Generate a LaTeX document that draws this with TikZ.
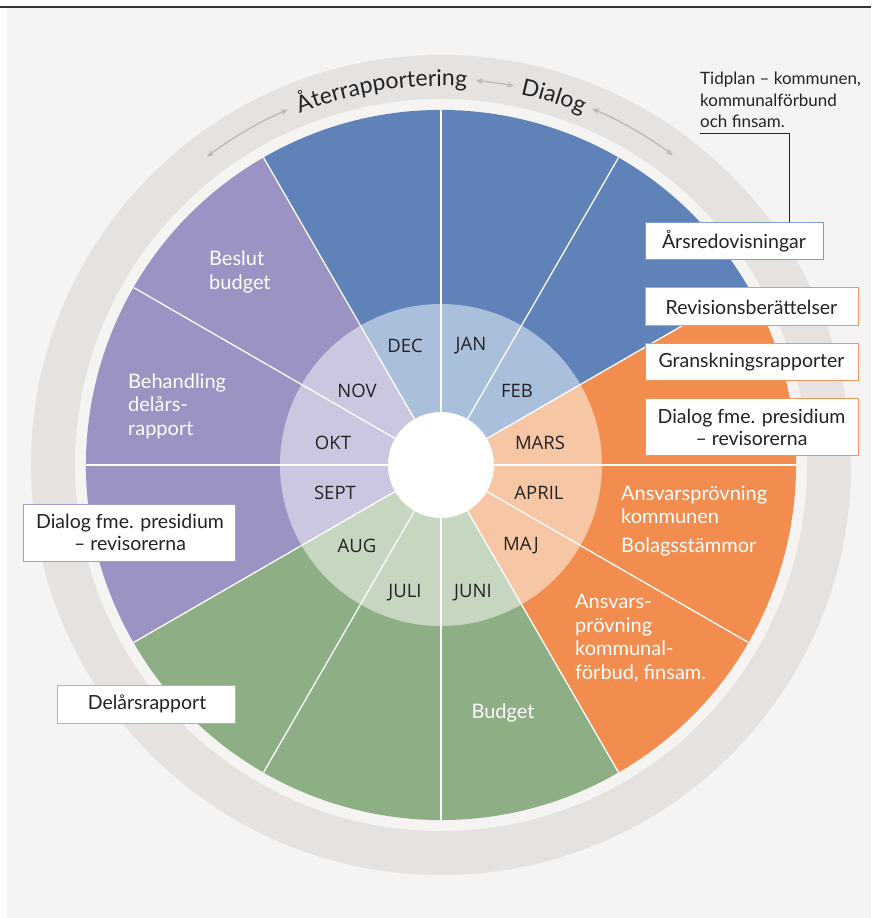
\documentclass[tikz,border=0pt]{standalone}
\usepackage{fontspec}
\setmainfont{Lato}
\newfontfamily\monthfont{Open Sans}
\usetikzlibrary{arrows.meta,decorations.text,calc}
\definecolor{bgc}{RGB}{245,244,242}
\definecolor{ringc}{RGB}{230,226,224}
\definecolor{blueD}{RGB}{95,131,185}
\definecolor{blueL}{RGB}{170,191,219}
\definecolor{orangeD}{RGB}{242,141,79}
\definecolor{orangeL}{RGB}{247,198,165}
\definecolor{greenD}{RGB}{142,174,133}
\definecolor{greenL}{RGB}{198,214,192}
\definecolor{purpleD}{RGB}{155,147,196}
\definecolor{purpleL}{RGB}{204,199,225}
\definecolor{blueB}{RGB}{123,156,204}
\definecolor{orangeB}{RGB}{240,150,90}
\definecolor{purpleB}{RGB}{165,158,208}
\definecolor{greenB}{RGB}{165,191,157}
\definecolor{arrowgray}{RGB}{190,184,181}
\definecolor{txt}{RGB}{35,35,35}
\newcommand{\ringtextfont}{\fontsize{23}{27}\selectfont\color{txt}}
\begin{document}
\begin{tikzpicture}[x=1pt,y=1pt,
  month/.style={font=\monthfont\fontsize{18.5}{21}\selectfont, text=txt, inner sep=0},
  wlabel/.style={font=\fontsize{20}{23.5}\selectfont, text=white, align=left, inner sep=0, anchor=west},
  infobox/.style={draw=#1, fill=white, line width=1pt, inner sep=0, font=\fontsize{19.5}{22}\selectfont, text=txt, align=center},
  divider/.style={draw=white, line width=1.3pt},
  ringarrow/.style={arrowgray, line width=1.3pt, {Stealth[length=7pt,width=6pt]}-{Stealth[length=7pt,width=6pt]}},
  leader/.style={draw=txt, line width=1pt}]
\useasboundingbox (-441,-453) rectangle (430,465);
% background
\fill[white] (-441,-453) rectangle (430,465);
\fill[bgc] (-434,-453) rectangle (430,457);
\draw[black!80, line width=1.5pt] (-441,458) -- (430,458);
% gray ring
\fill[ringc, even odd rule] (0,0) circle[radius=410] (0,0) circle[radius=366];
% outer sectors
\fill[blueD] (0,0) -- (120:355) arc[start angle=120, end angle=30, radius=355] -- cycle;
\fill[orangeD] (0,0) -- (30:355) arc[start angle=30, end angle=-60, radius=355] -- cycle;
\fill[greenD] (0,0) -- (-60:355) arc[start angle=-60, end angle=-150, radius=355] -- cycle;
\fill[purpleD] (0,0) -- (-150:355) arc[start angle=-150, end angle=-240, radius=355] -- cycle;
% inner ring
\fill[blueL] (0,0) -- (120:161) arc[start angle=120, end angle=30, radius=161] -- cycle;
\fill[orangeL] (0,0) -- (30:161) arc[start angle=30, end angle=-60, radius=161] -- cycle;
\fill[greenL] (0,0) -- (-60:161) arc[start angle=-60, end angle=-150, radius=161] -- cycle;
\fill[purpleL] (0,0) -- (-150:161) arc[start angle=-150, end angle=-240, radius=161] -- cycle;
% dividers
\foreach \a in {0,30,...,330} \draw[divider] (\a:53) -- (\a:355);
\fill[white] (0,0) circle[radius=53];
% month labels
\node[month] (jan) at (30,119) {JAN};
\node[month] (feb) at (76,74) {FEB};
\node[month] (mars) at (99,22) {MARS};
\node[month] (april) at (98,-28) {APRIL};
\node[month] (maj) at (80,-81) {MAJ};
\node[month] (juni) at (32,-128) {JUNI};
\node[month] (juli) at (-36,-128) {JULI};
\node[month] (aug) at (-84,-81) {AUG};
\node[month] (sept) at (-106,-28) {SEPT};
\node[month] (okt) at (-108,22) {OKT};
\node[month] (nov) at (-84,74) {NOV};
\node[month] (dec) at (-36,119) {DEC};
% white sector texts
\node[wlabel] (beslut) at (-232,193) {Beslut\\budget};
\node[wlabel] (behandling) at (-313,59) {Behandling\\delårs-\\rapport};
\node[wlabel] (ansvkom) at (180,-40) {Ansvarsprövning\\kommunen};
\node[wlabel] (bolag) at (180,-82) {Bolagsstämmor};
\node[wlabel] (ansvforb) at (134,-173) {Ansvars-\\prövning\\kommunal-\\förbud, finsam.};
\node[wlabel, anchor=center] (budget) at (62,-248) {Budget};
% ring texts and arrows
\path[decorate, decoration={text along path, text align=center, text={|\ringtextfont|Återrapportering}}]
  (120:379) arc[start angle=120, end angle=78, radius=379];
\path[decorate, decoration={text along path, text align=center, text={|\ringtextfont|Dialog}}]
  (88:379) arc[start angle=88, end angle=58, radius=379];
\draw[ringarrow] (127.2:387) arc[start angle=127.2, end angle=113.3, radius=387];
\draw[ringarrow] (84.8:386) arc[start angle=84.8, end angle=79.1, radius=386];
\draw[ringarrow] (67:387) arc[start angle=67, end angle=53.2, radius=387];
% info boxes
\node[infobox=blueB, minimum width=178, minimum height=37] (aars) at (293,223.5) {Årsredovisningar};
\node[infobox=orangeB, minimum width=213, minimum height=38] (revber) at (310.5,158) {Revisionsberättelser};
\node[infobox=orangeB, minimum width=213, minimum height=37] (gransk) at (310.5,102.5) {Granskningsrapporter};
\node[infobox=orangeB, minimum width=213, minimum height=56] (dialogr) at (310.5,38) {Dialog fme. presidium\\– revisorerna};
\node[infobox=purpleB, minimum width=212, minimum height=57] (dialogl) at (-311,-67.5) {Dialog fme. presidium\\– revisorerna};
\node[infobox=greenB, minimum width=178, minimum height=38] (delars) at (-294,-239) {Delårsrapport};
% tidplan note
\node[anchor=north west, inner sep=0, align=left, text=txt, font=\fontsize{17}{21.5}\selectfont] (tidplan) at (259,393) {Tidplan – kommunen,\\kommunalförbund\\och finsam.};
\coordinate (tpcorner) at (348,331);
\coordinate (tpend) at (259,331);
\draw[leader] (aars.north -| tpcorner) -- (tpcorner) -- (tpend);
\end{tikzpicture}
\end{document}
